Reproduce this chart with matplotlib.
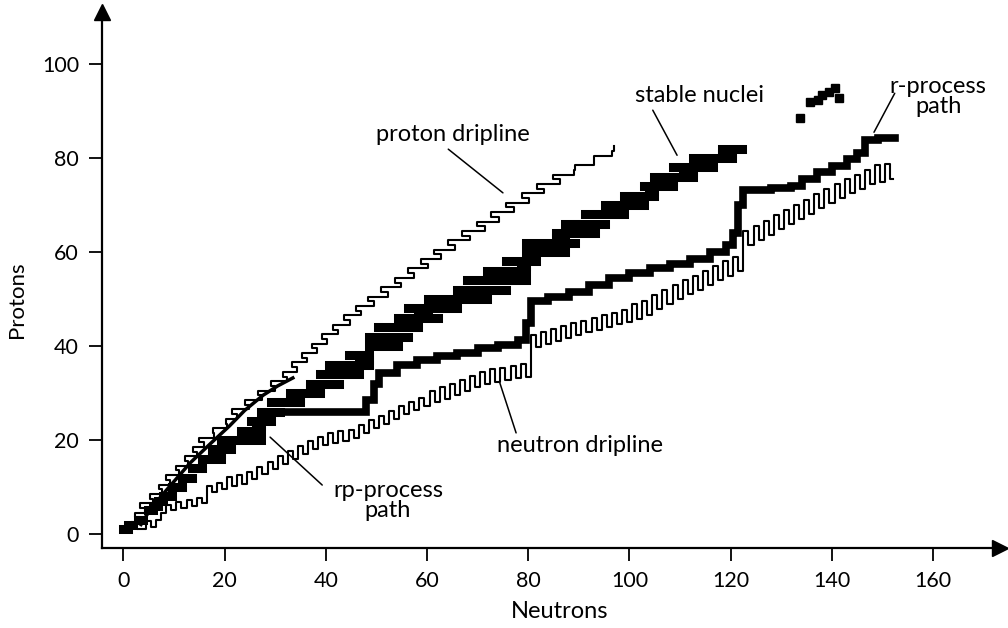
import numpy as np
import matplotlib.pyplot as plt

plt.rcParams['font.family'] = ['Lato', 'DejaVu Sans']

# stable nuclei: for each Z the range of stable N, as drawn in the figure
stable_Z = [1, 2, 3, 4, 5, 6, 7, 8, 9, 10, 11, 12, 13, 14, 15, 16, 17, 18, 19, 20,
            21, 22, 23, 24, 25, 26, 27, 28, 29, 30, 31, 32, 33, 34, 35, 36, 37, 38, 39, 40,
            41, 42, 44, 45, 46, 47, 48, 49, 50, 51, 52, 53, 54, 55, 56, 57, 58, 59, 60,
            62, 63, 64, 65, 66, 67, 68, 69, 70, 71, 72, 73, 74, 75, 76, 77, 78, 79, 80,
            81, 82, 83]
stable_N_lo = [0.0, 1.0, 2.9, 4.9, 4.9, 5.8, 6.8, 7.8, 9.7, 9.7, 11.6, 11.6, 13.6, 13.6, 15.5, 15.5, 17.5, 17.5, 19.4, 19.4,
               23.3, 23.3, 26.2, 25.2, 29.1, 27.2, 31.0, 29.1, 33.0, 33.0, 36.9, 36.9, 40.7, 38.8, 42.7, 40.7, 46.6, 44.6, 48.5, 48.5,
               50.4, 48.5, 50.4, 56.3, 54.3, 58.2, 56.3, 62.1, 60.1, 67.9, 66.0, 71.8, 67.9, 75.7, 71.8, 78.6, 75.7, 79.5, 79.5,
               79.5, 85.4, 85.4, 91.2, 87.3, 95.1, 91.2, 97.0, 95.1, 100.9, 98.9, 103.8, 102.8, 106.7, 104.8, 110.6, 108.6, 114.5, 112.5,
               118.3, 118.3, 122.2]
stable_N_hi = [1.0, 1.9, 3.9, 4.9, 5.8, 6.8, 7.8, 9.7, 9.7, 11.6, 11.6, 13.6, 13.6, 15.5, 15.5, 19.4, 19.4, 21.3, 21.3, 27.2,
               23.3, 27.2, 27.2, 29.1, 29.1, 31.0, 31.0, 34.9, 34.9, 38.8, 38.8, 42.7, 40.7, 46.6, 44.6, 48.5, 48.5, 48.5, 48.5, 54.3,
               50.4, 56.3, 58.2, 56.3, 62.1, 60.1, 66.0, 64.0, 71.8, 69.8, 75.7, 71.8, 79.5, 75.7, 79.5, 79.5, 81.5, 79.5, 87.3,
               89.2, 87.3, 93.1, 91.2, 95.1, 95.1, 98.9, 97.0, 102.8, 101.9, 104.8, 104.8, 108.6, 108.6, 112.5, 112.5, 116.4, 114.5, 120.3,
               120.3, 122.2, 122.2]

# long-lived heavy nuclei beyond lead
heavy_N = [133.7, 135.6, 137.3, 138.0, 139.5, 140.6, 141.4]
heavy_Z = [88.5, 91.9, 92.3, 93.4, 94.0, 94.9, 92.8]

# proton dripline: lightest bound N for each Z
pdrip_Z = list(range(1, 83))
pdrip_N = [1.0, 1.5, 3.4, 2.3, 4.2, 3.3, 5.8, 5.2, 7.6, 7.0,
           9.3, 8.5, 11.0, 10.4, 12.8, 12.2, 14.5, 13.7, 16.0, 15.0,
           18.0, 17.8, 20.5, 20.2, 22.4, 21.4, 24.8, 24.0, 27.4, 26.6,
           30.0, 29.2, 32.4, 31.6, 34.4, 33.4, 36.3, 35.3, 38.3, 37.3,
           40.3, 39.2, 42.5, 41.4, 44.8, 43.7, 47.0, 45.9, 49.6, 48.3,
           52.2, 51.0, 54.9, 53.6, 57.5, 56.2, 60.1, 58.8, 62.7, 61.3,
           65.6, 64.1, 68.5, 67.0, 71.4, 69.9, 74.3, 72.7, 77.2, 75.7,
           80.2, 78.7, 83.2, 81.7, 86.3, 84.8, 89.0, 89.2, 93.0, 93.0,
           96.5, 97.0]

# neutron dripline: lowest bound Z for each N
ndrip_N = list(range(3, 153))
ndrip_Z = [1.0, 1.1, 2.7, 1.4, 3.0, 4.5, 6.2, 5.0, 6.7, 5.5,
           7.2, 6.0, 7.7, 6.5, 10.2, 9.0, 10.8, 9.6, 12.1, 10.1,
           12.6, 10.7, 13.2, 11.6, 14.3, 12.7, 15.4, 13.8, 16.6, 14.9,
           17.7, 16.0, 18.7, 17.0, 19.7, 18.0, 20.7, 19.0, 21.4, 19.4,
           21.8, 19.8, 22.2, 20.5, 23.2, 21.5, 24.2, 22.5, 25.2, 23.5,
           26.2, 24.5, 27.2, 25.5, 28.1, 26.3, 28.9, 27.2, 30.4, 28.0,
           31.2, 28.8, 32.0, 29.6, 32.8, 30.4, 33.6, 31.2, 34.4, 32.0,
           35.0, 32.4, 35.4, 32.8, 35.8, 33.2, 36.1, 33.5, 42.3, 39.8,
           42.9, 40.5, 43.6, 41.1, 44.2, 41.7, 44.8, 42.3, 45.4, 42.9,
           46.0, 43.5, 46.6, 44.1, 47.1, 44.6, 47.7, 45.2, 48.9, 45.7,
           49.5, 46.6, 50.8, 47.9, 52.0, 49.0, 53.0, 50.0, 54.0, 51.0,
           55.0, 52.0, 56.0, 53.0, 57.0, 54.0, 58.0, 55.0, 59.0, 56.0,
           64.5, 61.5, 65.6, 62.6, 66.7, 63.7, 67.8, 64.8, 68.9, 65.9,
           70.0, 67.0, 71.1, 68.2, 72.3, 69.3, 73.4, 70.5, 74.5, 71.5,
           75.5, 72.5, 76.5, 73.5, 77.5, 74.5, 78.5, 75.0, 78.8, 75.5]

# r-process path
rproc_N = [27.5, 46, 48, 49.5, 50.5, 54, 58, 62, 66, 70, 74, 78, 79.5, 80.5, 84, 88, 92, 96,
           100, 104, 108, 112, 116, 119, 120.5, 121.5, 122.5, 128, 132, 134, 137, 140, 143,
           145, 146.5, 149, 152.5]
rproc_Z = [26, 26, 28.5, 32, 34.3, 36, 37, 37.8, 38.6, 39.5, 40.3, 41.3, 45, 49.5, 50.5, 51.5, 53, 54.5,
           55.5, 56.5, 57.5, 58.5, 60, 61.5, 64, 70, 73.3, 73.6, 74, 75.5, 77, 78.3, 79.8,
           81, 83.8, 84.2, 84.2]

# rp-process path
rp_N = [3.5, 5.5, 8.6, 13.2, 17.5, 21, 24, 27.6, 30.5, 33.5]
rp_Z = [2.0, 5.5, 9.4, 15.1, 19.5, 23, 26.3, 29.5, 31.5, 33.2]

fig = plt.figure(figsize=(10.08, 6.28), dpi=100)
ax = fig.add_axes([0.1012, 0.1274, 0.8909, 0.8535])

for z, lo, hi in zip(stable_Z, stable_N_lo, stable_N_hi):
    ax.plot([lo, hi], [z, z], color='black', lw=6.5, solid_capstyle='projecting')
ax.plot(heavy_N, heavy_Z, 's', color='black', ms=6)

# proton dripline drawn as outline: vertical piece for each Z
pz = np.array(pdrip_Z, dtype=float)
px = np.repeat(pdrip_N, 2)
py = np.column_stack([pz - 0.5, pz + 0.5]).ravel()
ax.plot(px, py, color='black', lw=1.5)

ax.plot(ndrip_N, ndrip_Z, drawstyle='steps-mid', color='black', lw=1.5)

ax.plot(rproc_N, rproc_Z, drawstyle='steps-post', color='black', lw=5.5,
        solid_joinstyle='miter', solid_capstyle='projecting')
ax.plot(rp_N, rp_Z, color='black', lw=2.5)

# labels with leader lines
lead = dict(arrowstyle='-', color='black', lw=1.1, shrinkA=0, shrinkB=0)
fs = 17
ax.text(65.1, 85.1, 'proton dripline', fontsize=fs, ha='center', va='center')
ax.annotate('', xy=(75, 72.6), xytext=(64.2, 81.9), arrowprops=lead)
ax.text(113.9, 93.4, 'stable nuclei', fontsize=fs, ha='center', va='center')
ax.annotate('', xy=(109.4, 80.6), xytext=(104.6, 90.2), arrowprops=lead)
ax.text(161, 93.2, 'r-process\npath', fontsize=fs, ha='center', va='center', linespacing=0.95)
ax.annotate('', xy=(148.3, 85.5), xytext=(152.4, 93.8), arrowprops=lead)
ax.text(90.2, 18.9, 'neutron dripline', fontsize=fs, ha='center', va='center')
ax.annotate('', xy=(74.4, 32.1), xytext=(77.6, 21.5), arrowprops=lead)
ax.text(52.3, 7.2, 'rp-process\npath', fontsize=fs, ha='center', va='center', linespacing=0.95)
ax.annotate('', xy=(29, 20.6), xytext=(39.3, 10.4), arrowprops=lead)

ax.set_xlim(-4.2, 173.2)
ax.set_ylim(-3.0, 111.1)
ax.spines['top'].set_visible(False)
ax.spines['right'].set_visible(False)
ax.spines['left'].set_linewidth(1.6)
ax.spines['bottom'].set_linewidth(1.6)
ax.set_xticks(range(0, 161, 20))
ax.set_yticks(range(0, 101, 20))
ax.tick_params(length=9.5, width=1.3, labelsize=15.5, pad=7)
ax.plot(1, 0, '>', transform=ax.transAxes, clip_on=False, color='black', ms=11)
ax.plot(0, 1, '^', transform=ax.transAxes, clip_on=False, color='black', ms=11)
ax.set_xlabel('Neutrons', fontsize=17)
ax.set_ylabel('Protons', fontsize=16)
ax.xaxis.set_label_coords(0.51, -0.098)
ax.yaxis.set_label_coords(-0.083, 0.463)

fig.savefig('out.png', dpi=100)
